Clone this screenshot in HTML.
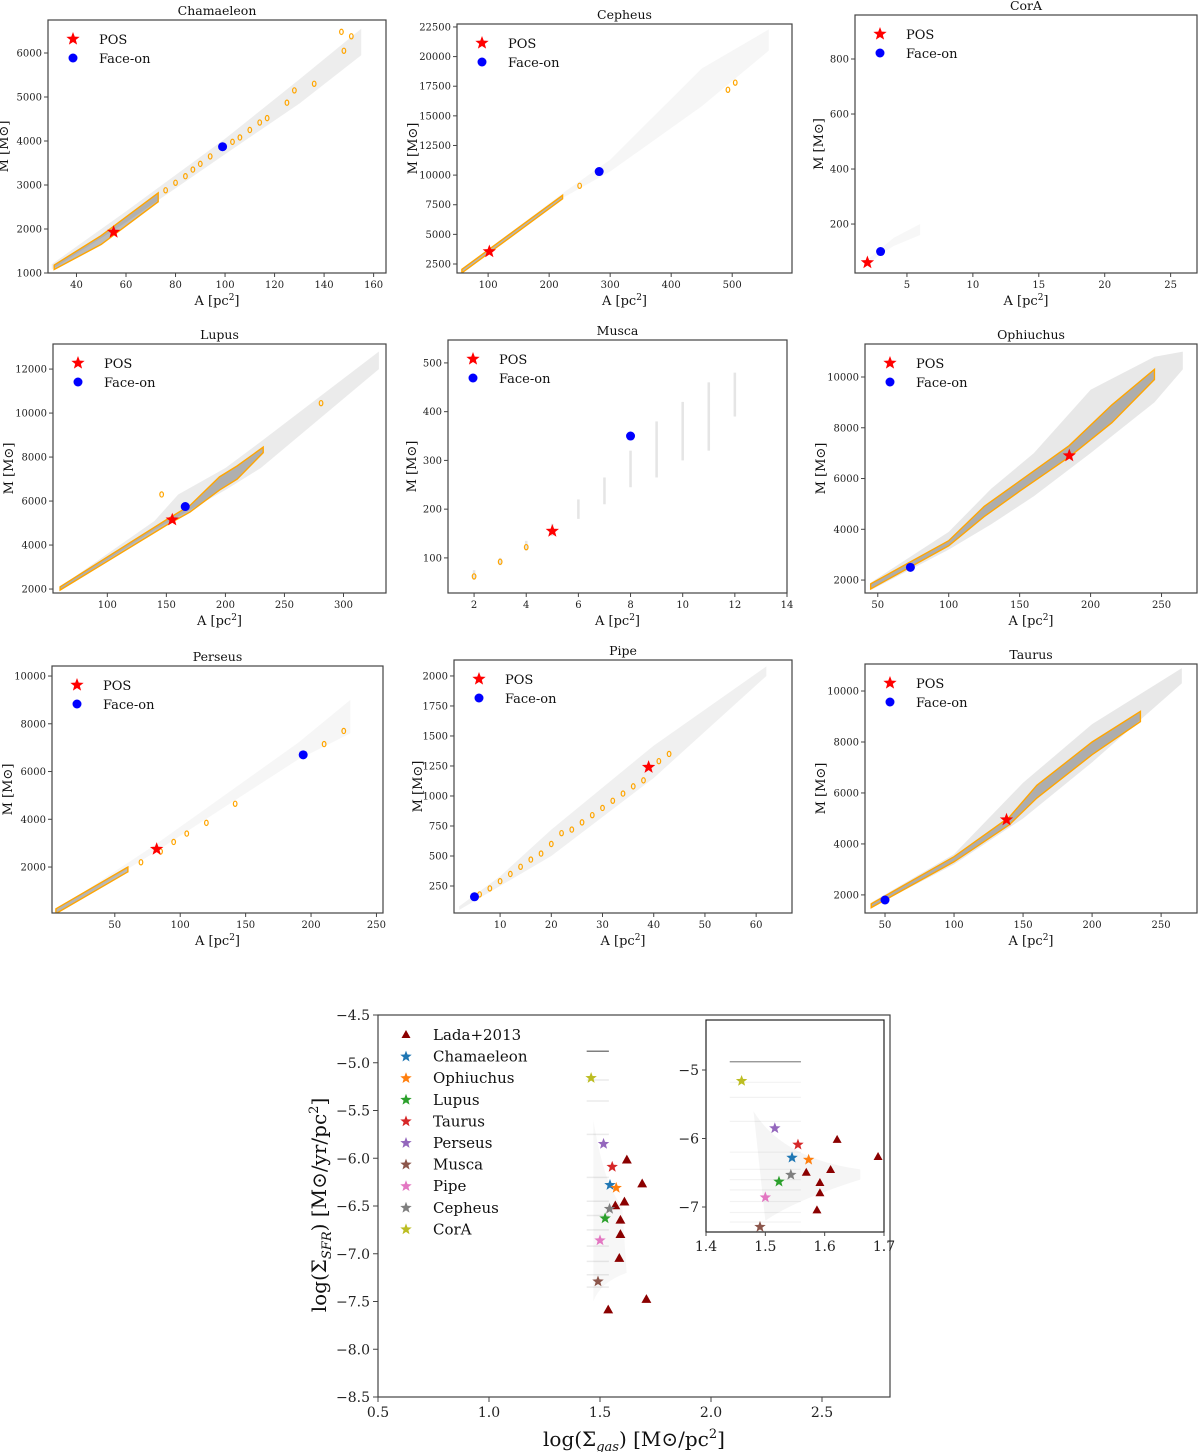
<!DOCTYPE html>
<html><head><meta charset="utf-8"><style>
body{margin:0;background:#fff}
svg{display:block;font-family:"DejaVu Serif","Liberation Serif",serif}
</style></head><body>
<svg id="fig" width="1200" height="1452" viewBox="0 0 1200 1452" xmlns="http://www.w3.org/2000/svg"></svg>
<script>
// ---------- panel data ----------
const panelNames = ["Chamaeleon","Cepheus","CorA","Lupus","Musca","Ophiuchus","Perseus","Pipe","Taurus"];
const chamXTicks=[40,60,80,100,120,140,160], chamYTicks=[1000,2000,3000,4000,5000,6000];
const cephXTicks=[100,200,300,400,500], cephYTicks=[2500,5000,7500,10000,12500,15000,17500,20000,22500];
const coraXTicks=[5,10,15,20,25], coraYTicks=[200,400,600,800];
const lupXTicks=[100,150,200,250,300], lupYTicks=[2000,4000,6000,8000,10000,12000];
const musXTicks=[2,4,6,8,10,12,14], musYTicks=[100,200,300,400,500];
const ophXTicks=[50,100,150,200,250], ophYTicks=[2000,4000,6000,8000,10000];
const perXTicks=[50,100,150,200,250], perYTicks=[2000,4000,6000,8000,10000];
const pipXTicks=[10,20,30,40,50,60], pipYTicks=[250,500,750,1000,1250,1500,1750,2000];
const tauXTicks=[50,100,150,200,250], tauYTicks=[2000,4000,6000,8000,10000];

const posPts  = [[55,1930],[102,3550],[2,60],[155,5150],[5,155],[185,6900],[82,2750],[39,1240],[138,4950]];
const facePts = [[99,3870],[282,10300],[3,100],[166,5750],[8,350],[73,2500],[194,6700],[5,160],[50,1800]];

const chamBandA=[30,60,100,130,155], chamBandLo=[1080,2150,3700,4850,5950], chamBandHi=[1200,2400,4050,5400,6550];
const chamContA=[31,50,73], chamContLo=[1080,1650,2620], chamContHi=[1180,1850,2820];
const chamBlobA=[76,80,84,87,90,94,103,106,110,114,117,125,128,136,148,147,151];
const chamBlobM=[2880,3050,3200,3350,3480,3650,3980,4080,4250,4420,4520,4870,5150,5300,6050,6480,6380];

const cephBandA=[55,220,300,450,560], cephBandLo=[1800,8000,10300,15800,20500], cephBandHi=[2000,8400,11300,19000,22300];
const cephContA=[57,222], cephContLo=[1750,8000], cephContHi=[2050,8300];
const cephBlobA=[250,493,505], cephBlobM=[9100,17200,17800];

const coraBandA=[2,3,4,6], coraBandLo=[50,90,120,160], coraBandHi=[70,110,150,200];

const lupBandA=[60,140,160,200,230,330], lupBandLo=[1950,4700,5300,6500,7500,12000], lupBandHi=[2100,5100,6300,7500,8700,12800];
const lupContA=[60,150,170,195,210,232], lupContLo=[1950,4900,5500,6500,7000,8200], lupContHi=[2100,5150,5800,7100,7600,8450];
const lupBlobA=[146,281], lupBlobM=[6300,10450];

const musStripX=[2,3,4,5,6,7,8,9,10,11,12], musStripLo=[55,85,115,145,180,210,245,265,300,320,390], musStripHi=[75,100,135,170,220,265,320,380,420,460,480];
const musBlobA=[2,3,4], musBlobM=[62,92,122];

const ophBandA=[45,100,130,160,200,245,265], ophBandLo=[1600,3200,4200,5300,7000,9000,10300], ophBandHi=[1900,3900,5600,7000,9500,10800,11000];
const ophContA=[45,100,125,150,185,215,245], ophContLo=[1650,3350,4500,5500,6850,8200,9900], ophContHi=[1850,3550,4900,5900,7300,8900,10300];

const perBandA=[5,80,190,230], perBandLo=[50,2600,6500,7600], perBandHi=[200,2900,7200,9000];
const perContA=[5,60], perContLo=[50,1800], perContHi=[250,2000];
const perBlobA=[70,85,95,105,120,142,210,225], perBlobM=[2200,2650,3050,3400,3850,4650,7150,7700];

const pipBandA=[2,10,20,40,62], pipBandLo=[50,250,500,1150,2000], pipBandHi=[80,330,720,1420,2080];
const pipBlobA=[6,8,10,12,14,16,18,20,22,24,26,28,30,32,34,36,38,41,43];
const pipBlobM=[180,230,290,350,410,470,520,600,690,720,780,840,900,960,1020,1080,1130,1290,1350];

const tauBandA=[40,100,150,200,265], tauBandLo=[1500,3200,5000,7200,10300], tauBandHi=[1700,3600,6400,8700,10900];
const tauContA=[40,100,140,160,200,235], tauContLo=[1500,3300,4750,5800,7500,8800], tauContHi=[1650,3500,5050,6300,8000,9200];

const panels=[
 {name:"Chamaeleon",box:[48,20,386,273],xd:[28.5,165],yd:[1000,6750],xt:chamXTicks,yt:chamYTicks,bA:chamBandA,bLo:chamBandLo,bHi:chamBandHi,cA:chamContA,cLo:chamContLo,cHi:chamContHi,blA:chamBlobA,blM:chamBlobM,op:0.07},
 {name:"Cepheus",box:[457,24,792,273],xd:[49,598],yd:[1740,22750],xt:cephXTicks,yt:cephYTicks,bA:cephBandA,bLo:cephBandLo,bHi:cephBandHi,cA:cephContA,cLo:cephContLo,cHi:cephContHi,blA:cephBlobA,blM:cephBlobM,op:0.035},
 {name:"CorA",box:[855,15,1197,273],xd:[1.06,27],yd:[22,960],xt:coraXTicks,yt:coraYTicks,bA:coraBandA,bLo:coraBandLo,bHi:coraBandHi,op:0.03},
 {name:"Lupus",box:[53,344,386,593],xd:[54,336],yd:[1820,13140],xt:lupXTicks,yt:lupYTicks,bA:lupBandA,bLo:lupBandLo,bHi:lupBandHi,cA:lupContA,cLo:lupContLo,cHi:lupContHi,blA:lupBlobA,blM:lupBlobM,op:0.08},
 {name:"Musca",box:[448,340,787,593],xd:[1,14],yd:[28,547],xt:musXTicks,yt:musYTicks,sX:musStripX,sLo:musStripLo,sHi:musStripHi,blA:musBlobA,blM:musBlobM},
 {name:"Ophiuchus",box:[865,344,1197,593],xd:[41,275],yd:[1490,11300],xt:ophXTicks,yt:ophYTicks,bA:ophBandA,bLo:ophBandLo,bHi:ophBandHi,cA:ophContA,cLo:ophContLo,cHi:ophContHi,op:0.09},
 {name:"Perseus",box:[52,666,383,913],xd:[2,255],yd:[75,10420],xt:perXTicks,yt:perYTicks,bA:perBandA,bLo:perBandLo,bHi:perBandHi,cA:perContA,cLo:perContLo,cHi:perContHi,blA:perBlobA,blM:perBlobM,op:0.035},
 {name:"Pipe",box:[454,660,792,913],xd:[1,67],yd:[25,2133],xt:pipXTicks,yt:pipYTicks,bA:pipBandA,bLo:pipBandLo,bHi:pipBandHi,blA:pipBlobA,blM:pipBlobM,op:0.06},
 {name:"Taurus",box:[865,664,1197,913],xd:[35.5,276],yd:[1290,11060],xt:tauXTicks,yt:tauYTicks,bA:tauBandA,bLo:tauBandLo,bHi:tauBandHi,cA:tauContA,cLo:tauContLo,cHi:tauContHi,op:0.09}
];

// ---------- bottom chart data ----------
const ladaX=[1.621,1.69,1.61,1.569,1.592,1.592,1.587,1.709,1.537];
const ladaY=[-6.02,-6.27,-6.46,-6.50,-6.65,-6.80,-7.05,-7.48,-7.59];
const cloudNames=["Chamaeleon","Ophiuchus","Lupus","Taurus","Perseus","Musca","Pipe","Cepheus","CorA"];
const cloudColors=["#1f77b4","#ff7f0e","#2ca02c","#d62728","#9467bd","#8c564b","#e377c2","#7f7f7f","#bcbd22"];
const cloudX=[1.545,1.573,1.523,1.555,1.516,1.491,1.50,1.543,1.46];
const cloudY=[-6.28,-6.31,-6.63,-6.09,-5.85,-7.29,-6.86,-6.53,-5.16];
const mainXTicks=[0.5,1.0,1.5,2.0,2.5], mainYTicks=[-4.5,-5.0,-5.5,-6.0,-6.5,-7.0,-7.5,-8.0,-8.5];
const insetXTicks=[1.4,1.5,1.6,1.7], insetYTicks=[-5,-6,-7];
const streakY=[-4.88,-5.18,-5.4,-5.75,-6.2,-6.45,-6.6,-6.75,-6.92,-7.08,-7.22,-7.35];

// ---------- helpers ----------
const NS="http://www.w3.org/2000/svg";
const fig=document.getElementById('fig');
function mk(tag,attrs,parent){const e=document.createElementNS(NS,tag);for(const k in attrs)e.setAttribute(k,attrs[k]);(parent||fig).appendChild(e);return e;}
function starPath(cx,cy,r){let d="";for(let i=0;i<10;i++){const rr=i%2?r*0.42:r;const a=-Math.PI/2+i*Math.PI/5;d+=(i?"L":"M")+(cx+rr*Math.cos(a)).toFixed(2)+","+(cy+rr*Math.sin(a)).toFixed(2);}return d+"Z";}
function triPath(cx,cy,r){return `M${cx},${cy-r}L${cx+r*0.9},${cy+r*0.6}L${cx-r*0.9},${cy+r*0.6}Z`;}
function fmt(v){return String(v);}

// ---------- draw panels ----------
panels.forEach(p=>{
  const [x0,y0,x1,y1]=p.box;
  const sx=v=>x0+(v-p.xd[0])/(p.xd[1]-p.xd[0])*(x1-x0);
  const sy=v=>y1-(v-p.yd[0])/(p.yd[1]-p.yd[0])*(y1-y0);
  const g=mk('g',{});
  
  
  const cid='clip'+p.name;
  const cp=mk('clipPath',{id:cid},g); mk('rect',{x:x0,y:y0,width:x1-x0,height:y1-y0},cp);
  const pg=mk('g',{'clip-path':`url(#${cid})`},g);
  if(p.bA){
    let d="";p.bA.forEach((a,i)=>{d+=(i?"L":"M")+sx(a)+","+sy(p.bHi[i]);});
    for(let i=p.bA.length-1;i>=0;i--)d+="L"+sx(p.bA[i])+","+sy(p.bLo[i]);
    const b=mk('path',{d:d+"Z",fill:"#000","fill-opacity":p.op},pg);
    
    
  }
  if(p.sX){
    p.sX.forEach((x,i)=>{const s=mk('line',{x1:sx(x),x2:sx(x),y1:sy(p.sLo[i]),y2:sy(p.sHi[i]),stroke:"#999","stroke-width":2.5,"stroke-opacity":0.25},pg);
      
      });
  }
  if(p.cA){
    let d="";p.cA.forEach((a,i)=>{d+=(i?"L":"M")+sx(a)+","+sy(p.cHi[i]);});
    for(let i=p.cA.length-1;i>=0;i--)d+="L"+sx(p.cA[i])+","+sy(p.cLo[i]);
    const c=mk('path',{d:d+"Z",fill:"#555","fill-opacity":0.4,stroke:"orange","stroke-width":1.4},pg);
    
    
  }
  if(p.blA){
    p.blA.forEach((a,i)=>{const e=mk('ellipse',{cx:sx(a),cy:sy(p.blM[i]),rx:1.8,ry:2.6,fill:"none",stroke:"orange","stroke-width":1.2},pg);
      
      });
  }
  const idx=panelNames.indexOf(p.name);
  const ps=mk('path',{d:starPath(sx(posPts[idx][0]),sy(posPts[idx][1]),7),fill:"red"},g);
  
  
  const fc=mk('circle',{cx:sx(facePts[idx][0]),cy:sy(facePts[idx][1]),r:4.5,fill:"blue"},g);
  
  
  const fr=mk('rect',{x:x0,y:y0,width:x1-x0,height:y1-y0,fill:"none",stroke:"#444","stroke-width":1.2},g);
  
  
  p.xt.forEach(t=>{const X=sx(t);mk('line',{x1:X,x2:X,y1:y1,y2:y1+4,stroke:"#444"},g);
    const tx=mk('text',{x:X,y:y1+15,'font-size':10,'text-anchor':'middle',fill:'#222'},g);tx.textContent=fmt(t);
    
    });
  p.yt.forEach(t=>{const Y=sy(t);mk('line',{x1:x0-4,x2:x0,y1:Y,y2:Y,stroke:"#444"},g);
    const tx=mk('text',{x:x0-6,y:Y+3.5,'font-size':10,'text-anchor':'end',fill:'#222'},g);tx.textContent=fmt(t);
    
    });
  const ti=mk('text',{x:(x0+x1)/2,y:y0-5,'font-size':12.5,'text-anchor':'middle',fill:'#111'},g);ti.textContent=p.name;
  
  
  const xl=mk('text',{x:(x0+x1)/2,y:y1+32,'font-size':13,'text-anchor':'middle',fill:'#111'},g);
  xl.innerHTML='A [pc<tspan dy="-5" font-size="9">2</tspan><tspan dy="5">]</tspan>';
  
  
  const ylx=x0-(p.name==="CorA"||p.name==="Musca"||p.name==="Pipe"?32:40);
  const yl=mk('text',{x:ylx,y:(y0+y1)/2,'font-size':13,'text-anchor':'middle',fill:'#111',transform:`rotate(-90 ${ylx} ${(y0+y1)/2})`},g);
  yl.textContent='M [M\u2299]';
  
  
  const lg=mk('g',{},g);
  
  
  mk('path',{d:starPath(x0+25,y0+19,7),fill:'red'},lg);
  const t1=mk('text',{x:x0+51,y:y0+24,'font-size':13,fill:'#111'},lg);t1.textContent='POS';
  mk('circle',{cx:x0+25,cy:y0+38,r:4.5,fill:'blue'},lg);
  const t2=mk('text',{x:x0+51,y:y0+43,'font-size':13,fill:'#111'},lg);t2.textContent='Face-on';
});

// ---------- bottom chart ----------
(function(){
  const x0=378,x1=890,y0=1015,y1=1397;
  const sx=v=>x0+(v-0.5)*222;
  const sy=v=>y0+(-4.5-v)*95.5;
  const g=mk('g',{});
  
  
  streakY.forEach((y,i)=>{const l=mk('line',{x1:sx(1.44),x2:sx(1.54),y1:sy(y),y2:sy(y),stroke:'#000','stroke-opacity':i===0?0.5:0.08,'stroke-width':1.5},g);
    
    });
  mk('path',{d:`M${sx(1.47)},${sy(-5.6)}Q${sx(1.52)},${sy(-6.3)} ${sx(1.6)},${sy(-6.5)}L${sx(1.62)},${sy(-7.2)}Q${sx(1.5)},${sy(-7.3)} ${sx(1.47)},${sy(-7.5)}Z`,fill:'#000','fill-opacity':0.03},g);
  ladaX.forEach((x,i)=>{const t=mk('path',{d:triPath(sx(x),sy(ladaY[i]),5.5),fill:'#8b0000'},g);
    
    });
  cloudX.forEach((x,i)=>{const s=mk('path',{d:starPath(sx(x),sy(cloudY[i]),6),fill:cloudColors[i]},g);
    
    });
  mk('rect',{x:x0,y:y0,width:x1-x0,height:y1-y0,fill:'none',stroke:'#444','stroke-width':1.2},g);
  mainXTicks.forEach(t=>{const X=sx(t);mk('line',{x1:X,x2:X,y1:y1,y2:y1+5,stroke:'#444'},g);
    const tx=mk('text',{x:X,y:y1+20,'font-size':14,'text-anchor':'middle',fill:'#222'},g);tx.textContent=t.toFixed(1);
    
    });
  mainYTicks.forEach(t=>{const Y=sy(t);mk('line',{x1:x0-5,x2:x0,y1:Y,y2:Y,stroke:'#444'},g);
    const tx=mk('text',{x:x0-8,y:Y+5,'font-size':14,'text-anchor':'end',fill:'#222'},g);tx.textContent='\u2212'+Math.abs(t).toFixed(1);
    
    });
  const xl=mk('text',{x:(x0+x1)/2,y:1446,'font-size':20,'text-anchor':'middle',fill:'#111'},g);
  xl.innerHTML='log(\u03A3<tspan dy="5" font-size="13" font-style="italic">gas</tspan><tspan dy="-5">) [M\u2299/pc</tspan><tspan dy="-8" font-size="13">2</tspan><tspan dy="8">]</tspan>';
  
  
  const ycx=326,ycy=1205;
  const yl=mk('text',{x:ycx,y:ycy,'font-size':20,'text-anchor':'middle',fill:'#111',transform:`rotate(-90 ${ycx} ${ycy})`},g);
  yl.innerHTML='log(\u03A3<tspan dy="5" font-size="13" font-style="italic">SFR</tspan><tspan dy="-5">) [M\u2299/yr/pc</tspan><tspan dy="-8" font-size="13">2</tspan><tspan dy="8">]</tspan>';
  
  
  const lg=mk('g',{},g);
  
  
  mk('path',{d:triPath(406,1035,5),fill:'#8b0000'},lg);
  const lt=mk('text',{x:433,y:1040,'font-size':15,fill:'#111'},lg);lt.textContent='Lada+2013';
  cloudNames.forEach((n,i)=>{const Y=1035+21.6*(i+1);
    mk('path',{d:starPath(406,Y,6),fill:cloudColors[i]},lg);
    const t=mk('text',{x:433,y:Y+5,'font-size':15,fill:'#111'},lg);t.textContent=n;});
  const ix0=706,ix1=884,iy0=1020,iy1=1232;
  const isx=v=>ix0+(v-1.4)/0.3*(ix1-ix0);
  const isy=v=>1070+(-5-v)*68.5;
  const ig=mk('g',{},g);
  
  
  mk('rect',{x:ix0,y:iy0,width:ix1-ix0,height:iy1-iy0,fill:'#fff'},ig);
  streakY.forEach((y,i)=>{mk('line',{x1:isx(1.44),x2:isx(1.56),y1:isy(y),y2:isy(y),stroke:'#000','stroke-opacity':i===0?0.45:0.05,'stroke-width':1.2},ig);});
  mk('path',{d:`M${isx(1.48)},${isy(-5.6)}Q${isx(1.53)},${isy(-6.3)} ${isx(1.66)},${isy(-6.45)}L${isx(1.66)},${isy(-6.6)}Q${isx(1.55)},${isy(-6.9)} ${isx(1.5)},${isy(-7.2)}Z`,fill:'#000','fill-opacity':0.04},ig);
  ladaX.forEach((x,i)=>{if(ladaY[i]>-7.36){const t=mk('path',{d:triPath(isx(x),isy(ladaY[i]),5),fill:'#8b0000'},ig);
    
    }});
  cloudX.forEach((x,i)=>{const s=mk('path',{d:starPath(isx(x),isy(cloudY[i]),6),fill:cloudColors[i]},ig);
    
    });
  mk('rect',{x:ix0,y:iy0,width:ix1-ix0,height:iy1-iy0,fill:'none',stroke:'#222','stroke-width':1.2},ig);
  insetXTicks.forEach(t=>{const X=isx(t);mk('line',{x1:X,x2:X,y1:iy1,y2:iy1+4,stroke:'#444'},ig);
    const tx=mk('text',{x:X,y:iy1+19,'font-size':14,'text-anchor':'middle',fill:'#222'},ig);tx.textContent=t.toFixed(1);});
  insetYTicks.forEach(t=>{const Y=isy(t);mk('line',{x1:ix0-4,x2:ix0,y1:Y,y2:Y,stroke:'#444'},ig);
    const tx=mk('text',{x:ix0-7,y:Y+5,'font-size':14,'text-anchor':'end',fill:'#222'},ig);tx.textContent='\u2212'+Math.abs(t);});
})();
</script>
</body></html>
